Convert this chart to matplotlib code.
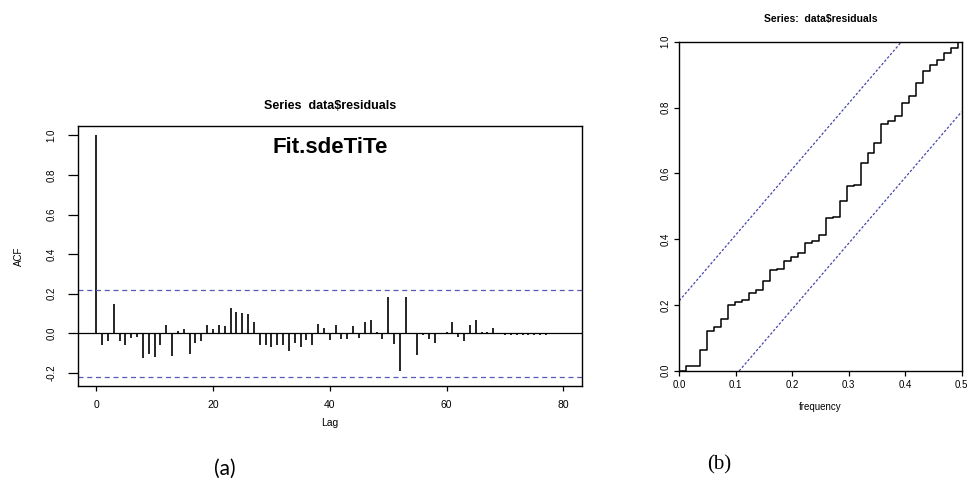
import matplotlib.pyplot as plt
import numpy as np

plt.rcParams['font.family'] = ['Liberation Sans', 'DejaVu Sans']

# (a) sample ACF of the residuals, lags 0..80
lags = np.arange(0, 81)
acf_vals = [1.0, -0.06, -0.04, 0.15, -0.04, -0.06, -0.025, -0.02, -0.125, -0.105,
            -0.12, -0.06, 0.04, -0.115, 0.013, 0.02, -0.105, -0.047, -0.04, 0.04,
            0.02, 0.042, 0.037, 0.13, 0.108, 0.104, 0.096, 0.057, -0.06, -0.06,
            -0.07, -0.057, -0.057, -0.09, -0.047, -0.07, -0.033, -0.06, 0.045, 0.028,
            -0.035, 0.04, -0.027, -0.03, 0.037, -0.023, 0.058, 0.067, 0.007, -0.027,
            0.182, -0.055, -0.19, 0.182, 0.003, -0.11, -0.01, -0.027, -0.047, 0.003,
            0.007, 0.058, -0.018, -0.04, 0.04, 0.07, 0.007, 0.007, 0.027, -0.005,
            -0.008, -0.006, -0.008, -0.01, -0.008, -0.01, -0.008, -0.01, -0.005, -0.003,
            -0.002]
ci = 0.219

# (b) cumulative periodogram, frequencies k/81
freq = np.arange(41) / 81
cum_pgram = [0.0, 0.014, 0.015, 0.063, 0.121, 0.134, 0.158, 0.199, 0.209, 0.214,
             0.236, 0.245, 0.274, 0.305, 0.309, 0.334, 0.347, 0.359, 0.389, 0.394,
             0.411, 0.465, 0.466, 0.515, 0.562, 0.565, 0.630, 0.661, 0.693, 0.749,
             0.760, 0.775, 0.813, 0.835, 0.875, 0.912, 0.929, 0.944, 0.965, 0.982,
             1.0]
crit = 0.2128

fig = plt.figure(figsize=(9.69, 4.8), dpi=100)

# ---- left panel
ax1 = fig.add_axes([0.080, 0.195, 0.5207, 0.543])
ax1.vlines(lags, 0, acf_vals, color='black', linewidth=1.2)
ax1.axhline(0, color='black', linewidth=0.9)
for c in (ci, -ci):
    ax1.axhline(c, color='#5858b8', linewidth=0.9, linestyle=(0, (4, 3)))
ax1.set_xlim(-3.2, 83.2)
ax1.set_ylim(-0.268, 1.049)
ax1.set_xticks([0, 20, 40, 60, 80])
ax1.set_yticks(np.arange(-0.2, 1.01, 0.2))
ax1.set_yticklabels(['-0.2', '0.0', '0.2', '0.4', '0.6', '0.8', '1.0'],
                    rotation=90, va='center', fontsize=7)
ax1.tick_params(axis='y', direction='out', length=7, width=0.9, pad=8)
ax1.tick_params(axis='x', direction='out', length=3.5, width=0.9, labelsize=7.5, pad=6)
for s in ax1.spines.values():
    s.set_linewidth(1.0)
ax1.set_xlabel('Lag', fontsize=7.5, labelpad=6)
ax1.set_ylabel('ACF', fontsize=7, labelpad=16)
ax1.set_title('Series  data$residuals', fontsize=9, fontweight='bold', pad=12)
ax1.text(0.5, 0.955, 'Fit.sdeTiTe', transform=ax1.transAxes, ha='center', va='top',
         fontsize=16, fontweight='bold')

# ---- right panel
ax2 = fig.add_axes([0.701, 0.2277, 0.2914, 0.6854])
ax2.step(freq, cum_pgram, where='post', color='black', linewidth=1.1)
ax2.plot([freq[-1], 0.5], [cum_pgram[-1], cum_pgram[-1]], color='black', linewidth=1.1)
ax2.plot([0, 0.5], [crit, 1 + crit], color='#4545aa', linewidth=0.9, linestyle=(0, (2, 1.5)))
ax2.plot([0, 0.5], [-crit, 1 - crit], color='#4545aa', linewidth=0.9, linestyle=(0, (2, 1.5)))
ax2.set_xlim(0, 0.5)
ax2.set_ylim(0, 1)
ax2.set_xticks(np.arange(0, 0.51, 0.1))
ax2.set_xticklabels(['0.0', '0.1', '0.2', '0.3', '0.4', '0.5'], fontsize=7)
ax2.set_yticks(np.arange(0, 1.01, 0.2))
ax2.set_yticklabels(['0.0', '0.2', '0.4', '0.6', '0.8', '1.0'],
                    rotation=90, va='center', fontsize=7)
ax2.tick_params(direction='out', length=3.5, width=0.9, pad=3)
for s in ax2.spines.values():
    s.set_linewidth(1.0)
ax2.set_xlabel('frequency', fontsize=7, labelpad=9)
ax2.set_title('Series:  data$residuals', fontsize=7.5, fontweight='bold', pad=14)

# ---- captions
fig.text(225 / 969, 1 - 469 / 480, '(a)', ha='center', va='center',
         fontsize=15, family=['Lato', 'DejaVu Sans'])
fig.text(719 / 969, 1 - 465 / 480, '(b)', ha='center', va='center',
         fontsize=15, family=['Liberation Serif', 'DejaVu Serif'])

fig.savefig('out.png', dpi=100)
